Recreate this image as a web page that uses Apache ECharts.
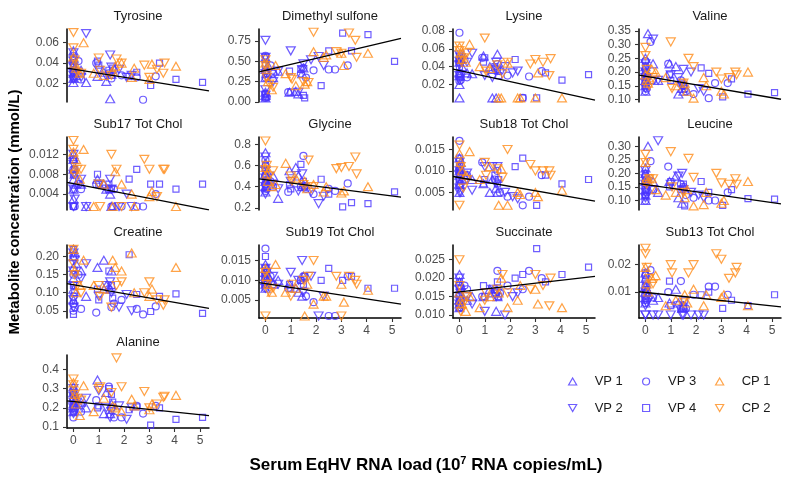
<!DOCTYPE html>
<html><head><meta charset="utf-8">
<script src="https://cdn.jsdelivr.net/npm/echarts@6/dist/echarts.min.js"></script>
<style>html,body{margin:0;padding:0;background:#fff}#c{width:789px;height:477px}</style>
</head><body><div id="c"></div><script>
const metabolites = ['Tyrosine','Dimethyl sulfone','Lysine','Valine','Sub17 Tot Chol','Glycine','Sub18 Tot Chol','Leucine','Creatine','Sub19 Tot Chol','Succinate','Sub13 Tot Chol','Alanine'];
const groups = ['VP 1','VP 2','VP 3','VP 4','CP 1','CP 2'];
const xTicks = [0,1,2,3,4,5];
// RNA load per sample, per group
const xVP1 = [0,0,0,0,0,0,0.05,0.1,0.3,0.5,0.95,1.2,1.3,1.45,1.5];
const xVP2 = [0,0,0,0,0,0.05,0.3,0.5,1.0,1.3,1.45,1.5,1.8,2.1,2.3];
const xVP3 = [0,0,0,0,0.05,0.2,0.3,0.9,1.4,1.5,1.6,1.9,2.5,2.75,3.25];
const xVP4 = [0,0,0,0,0.05,0.95,1.0,1.4,1.5,1.55,2.2,2.5,3.05,3.4,4.05,5.1];
const xCP1 = [0,0.05,0.1,0.25,0.4,0.8,1.2,1.55,1.65,1.9,2.3,2.4,3.0,3.1,4.05];
const xCP2 = [0,0,0.05,0.15,0.3,1.0,1.05,1.5,1.7,1.9,2.8,3.0,3.3,3.55,3.6];

// concentrations, groups in order VP1, VP2, VP3, VP4, CP1, CP2
const tyrosine = [
 [0.052,0.045,0.038,0.030,0.025,0.021,0.035,0.028,0.033,0.021,0.027,0.031,0.022,0.005,0.029],
 [0.050,0.042,0.036,0.028,0.024,0.031,0.026,0.069,0.033,0.027,0.048,0.036,0.034,0.026,0.028],
 [0.047,0.040,0.033,0.026,0.030,0.042,0.024,0.040,0.030,0.025,0.033,0.028,0.026,0.004,0.027],
 [0.044,0.036,0.030,0.025,0.032,0.042,0.038,0.033,0.028,0.035,0.027,0.031,0.018,0.040,0.024,0.021],
 [0.046,0.040,0.035,0.030,0.060,0.030,0.028,0.032,0.037,0.040,0.026,0.035,0.024,0.039,0.037],
 [0.070,0.055,0.043,0.031,0.030,0.045,0.033,0.028,0.044,0.040,0.038,0.026,0.034,0.030,0.040]];
const dimethylSulfone = [
 [0.55,0.40,0.30,0.12,0.08,0.05,0.35,0.45,0.30,0.38,0.12,0.13,0.10,0.35,0.42],
 [0.76,0.55,0.35,0.15,0.08,0.30,0.25,0.38,0.63,0.12,0.40,0.47,0.52,0.56,0.45],
 [0.57,0.30,0.10,0.05,0.06,0.45,0.35,0.12,0.35,0.42,0.30,0.39,0.40,0.40,0.45],
 [0.55,0.45,0.10,0.05,0.35,0.38,0.12,0.40,0.08,0.05,0.20,0.63,0.85,0.63,0.83,0.50],
 [0.48,0.42,0.25,0.15,0.45,0.35,0.20,0.22,0.25,0.62,0.55,0.58,0.60,0.45,0.60],
 [0.52,0.45,0.30,0.22,0.18,0.30,0.28,0.25,0.24,0.86,0.62,0.60,0.85,0.76,0.55]];
const lysine = [
 [0.050,0.045,0.033,0.020,0.005,0.030,0.048,0.040,0.033,0.032,0.052,0.040,0.005,0.005,0.054],
 [0.053,0.046,0.042,0.030,0.025,0.050,0.045,0.055,0.030,0.028,0.045,0.036,0.040,0.033,0.035],
 [0.078,0.045,0.030,0.024,0.025,0.048,0.028,0.050,0.038,0.043,0.035,0.030,0.005,0.029,0.035],
 [0.052,0.048,0.040,0.032,0.028,0.045,0.050,0.040,0.035,0.030,0.048,0.005,0.005,0.033,0.025,0.031],
 [0.062,0.055,0.048,0.045,0.065,0.040,0.038,0.005,0.005,0.044,0.005,0.005,0.005,0.033,0.005],
 [0.063,0.058,0.047,0.050,0.055,0.072,0.035,0.042,0.032,0.045,0.043,0.048,0.045,0.030,0.049]];
const valine = [
 [0.25,0.22,0.19,0.17,0.15,0.13,0.20,0.34,0.23,0.17,0.23,0.22,0.12,0.14,0.13],
 [0.23,0.20,0.18,0.16,0.14,0.18,0.32,0.17,0.19,0.18,0.15,0.21,0.20,0.14,0.13],
 [0.24,0.19,0.16,0.13,0.14,0.31,0.17,0.23,0.17,0.15,0.13,0.12,0.105,0.16,0.16],
 [0.22,0.20,0.17,0.15,0.18,0.19,0.17,0.16,0.15,0.14,0.215,0.195,0.11,0.175,0.12,0.125],
 [0.19,0.17,0.16,0.21,0.20,0.18,0.15,0.16,0.13,0.105,0.18,0.15,0.13,0.12,0.20],
 [0.29,0.26,0.21,0.15,0.18,0.31,0.14,0.16,0.25,0.22,0.20,0.175,0.18,0.20,0.19]];
const sub17TotChol = [
 [0.012,0.011,0.009,0.007,0.005,0.003,0.008,0.006,0.006,0.0015,0.007,0.006,0.005,0.004,0.0015],
 [0.012,0.010,0.008,0.005,0.0015,0.003,0.007,0.0015,0.006,0.005,0.007,0.005,0.0015,0.004,0.0015],
 [0.011,0.009,0.005,0.0015,0.0015,0.006,0.005,0.006,0.005,0.0015,0.005,0.0015,0.0015,0.0015,0.004],
 [0.011,0.008,0.0015,0.0015,0.009,0.008,0.006,0.006,0.005,0.0015,0.007,0.009,0.006,0.006,0.005,0.006],
 [0.0125,0.009,0.011,0.007,0.013,0.0015,0.006,0.0015,0.0085,0.006,0.004,0.0015,0.0035,0.0045,0.0015],
 [0.0148,0.013,0.008,0.009,0.009,0.006,0.0015,0.012,0.009,0.0015,0.011,0.009,0.0035,0.009,0.009]];
const glycine = [
 [0.72,0.62,0.52,0.45,0.40,0.35,0.55,0.48,0.50,0.29,0.55,0.58,0.50,0.40,0.42],
 [0.68,0.55,0.48,0.40,0.33,0.45,0.42,0.38,0.45,0.36,0.52,0.40,0.35,0.24,0.31],
 [0.65,0.50,0.42,0.36,0.38,0.45,0.40,0.35,0.40,0.69,0.38,0.33,0.38,0.36,0.43],
 [0.60,0.52,0.45,0.38,0.40,0.42,0.38,0.61,0.45,0.40,0.47,0.33,0.21,0.25,0.24,0.35],
 [0.58,0.52,0.45,0.40,0.42,0.62,0.48,0.45,0.38,0.42,0.35,0.40,0.34,0.36,0.40],
 [0.83,0.56,0.60,0.50,0.55,0.50,0.45,0.42,0.65,0.40,0.57,0.58,0.59,0.68,0.52]];
const sub18TotChol = [
 [0.013,0.011,0.010,0.009,0.007,0.005,0.012,0.008,0.009,0.008,0.007,0.005,0.008,0.006,0.005],
 [0.012,0.010,0.009,0.006,0.005,0.005,0.0095,0.0055,0.011,0.011,0.007,0.011,0.005,0.004,0.0035],
 [0.017,0.010,0.008,0.007,0.007,0.008,0.009,0.012,0.008,0.010,0.005,0.004,0.002,0.004,0.009],
 [0.013,0.011,0.009,0.008,0.010,0.007,0.008,0.009,0.007,0.008,0.011,0.013,0.002,0.009,0.007,0.008],
 [0.014,0.012,0.010,0.009,0.0145,0.008,0.011,0.002,0.0105,0.002,0.005,0.0045,0.005,0.004,0.0055],
 [0.016,0.002,0.011,0.006,0.008,0.012,0.009,0.0105,0.0085,0.015,0.0115,0.010,0.010,0.010,0.009]];
const leucine = [
 [0.22,0.20,0.17,0.14,0.12,0.10,0.18,0.30,0.17,0.13,0.17,0.19,0.11,0.09,0.15],
 [0.21,0.18,0.16,0.13,0.11,0.17,0.14,0.32,0.16,0.19,0.20,0.14,0.13,0.12,0.11],
 [0.19,0.15,0.12,0.10,0.13,0.245,0.14,0.225,0.16,0.15,0.12,0.11,0.10,0.10,0.13],
 [0.20,0.17,0.14,0.12,0.16,0.15,0.17,0.14,0.16,0.08,0.17,0.13,0.082,0.14,0.107,0.105],
 [0.24,0.18,0.17,0.18,0.14,0.12,0.13,0.11,0.14,0.08,0.085,0.13,0.09,0.10,0.17],
 [0.27,0.24,0.16,0.18,0.18,0.28,0.15,0.13,0.255,0.185,0.20,0.165,0.16,0.18,0.16]];
const creatine = [
 [0.22,0.20,0.17,0.14,0.11,0.08,0.21,0.18,0.16,0.09,0.17,0.19,0.12,0.11,0.16],
 [0.21,0.16,0.12,0.08,0.06,0.19,0.14,0.18,0.09,0.12,0.13,0.10,0.06,0.095,0.05],
 [0.20,0.15,0.09,0.05,0.06,0.15,0.055,0.045,0.11,0.06,0.07,0.08,0.055,0.04,0.062],
 [0.22,0.12,0.07,0.04,0.10,0.11,0.08,0.16,0.12,0.085,0.205,0.095,0.048,0.09,0.097,0.043],
 [0.22,0.16,0.10,0.12,0.19,0.12,0.11,0.19,0.17,0.16,0.21,0.10,0.09,0.11,0.17],
 [0.22,0.18,0.15,0.12,0.10,0.12,0.09,0.06,0.12,0.13,0.10,0.13,0.08,0.065,0.08]];
const sub19TotChol = [
 [0.014,0.012,0.011,0.010,0.009,0.008,0.013,0.011,0.009,0.010,0.009,0.008,0.007,0.006,0.011],
 [0.013,0.011,0.010,0.009,0.008,0.012,0.011,0.009,0.012,0.010,0.015,0.007,0.011,0.001,0.006],
 [0.018,0.012,0.010,0.008,0.009,0.011,0.009,0.008,0.010,0.011,0.006,0.0045,0.001,0.001,0.011],
 [0.016,0.013,0.011,0.009,0.012,0.009,0.008,0.010,0.009,0.011,0.010,0.013,0.010,0.011,0.008,0.008],
 [0.013,0.011,0.009,0.007,0.014,0.007,0.008,0.001,0.009,0.004,0.006,0.006,0.009,0.0045,0.0075],
 [0.012,0.001,0.009,0.007,0.008,0.006,0.009,0.010,0.011,0.015,0.011,0.001,0.011,0.010,0.009]];
const succinate = [
 [0.021,0.019,0.016,0.014,0.013,0.012,0.018,0.015,0.014,0.015,0.015,0.017,0.016,0.011,0.015],
 [0.020,0.017,0.014,0.013,0.012,0.016,0.015,0.013,0.011,0.017,0.015,0.016,0.010,0.015,0.016],
 [0.018,0.016,0.013,0.012,0.014,0.018,0.017,0.015,0.017,0.022,0.016,0.018,0.017,0.022,0.020],
 [0.019,0.015,0.013,0.012,0.014,0.018,0.015,0.016,0.019,0.015,0.020,0.021,0.028,0.019,0.021,0.023],
 [0.016,0.014,0.013,0.011,0.015,0.012,0.015,0.016,0.020,0.012,0.014,0.018,0.017,0.013,0.012],
 [0.025,0.018,0.011,0.013,0.015,0.014,0.016,0.017,0.021,0.016,0.017,0.021,0.018,0.0125,0.020]];
const sub13TotChol = [
 [0.017,0.015,0.012,0.010,0.008,0.006,0.011,0.009,0.007,0.008,0.006,0.011,0.006,0.004,0.005],
 [0.010,0.007,0.005,0.0016,0.0016,0.006,0.0016,0.0016,0.0016,0.005,0.0016,0.0016,0.0016,0.0016,0.0016],
 [0.016,0.012,0.009,0.006,0.010,0.018,0.008,0.010,0.014,0.005,0.004,0.009,0.012,0.012,0.009],
 [0.017,0.014,0.011,0.007,0.013,0.014,0.005,0.004,0.004,0.007,0.009,0.010,0.004,0.007,0.005,0.009],
 [0.019,0.013,0.010,0.015,0.016,0.005,0.007,0.009,0.006,0.011,0.005,0.009,0.008,0.009,0.005],
 [0.026,0.024,0.019,0.015,0.013,0.020,0.017,0.007,0.017,0.020,0.024,0.022,0.015,0.017,0.019]];
const alanine = [
 [0.31,0.28,0.25,0.22,0.20,0.18,0.27,0.24,0.23,0.20,0.345,0.17,0.28,0.17,0.22],
 [0.30,0.26,0.23,0.20,0.17,0.25,0.21,0.25,0.29,0.20,0.15,0.18,0.21,0.14,0.20],
 [0.29,0.24,0.20,0.15,0.19,0.22,0.18,0.24,0.31,0.20,0.15,0.15,0.21,0.17,0.21],
 [0.28,0.25,0.21,0.18,0.22,0.20,0.21,0.30,0.27,0.23,0.19,0.205,0.11,0.20,0.14,0.15],
 [0.33,0.27,0.22,0.16,0.315,0.18,0.25,0.21,0.20,0.18,0.245,0.21,0.19,0.22,0.265],
 [0.35,0.32,0.27,0.25,0.24,0.30,0.31,0.28,0.46,0.31,0.285,0.20,0.22,0.255,0.26]];

// y tick labels per panel
const yTickLabels = [
 ['0.02','0.04','0.06'], ['0.00','0.25','0.50','0.75'], ['0.02','0.04','0.06','0.08'],
 ['0.10','0.15','0.20','0.25','0.30','0.35'], ['0.004','0.008','0.012'], ['0.2','0.4','0.6','0.8'],
 ['0.005','0.010','0.015'], ['0.10','0.15','0.20','0.25','0.30'], ['0.05','0.10','0.15','0.20'],
 ['0.005','0.010','0.015'], ['0.010','0.015','0.020','0.025'], ['0.01','0.02'], ['0.1','0.2','0.3','0.4']];
// y axis ranges (data range + 5%)
const yMin = [0.0018,-0.001,0.0004,0.091,0.0008,0.18,0.0009,0.065,0.030,0.0005,0.0092,0.0005,0.095];
const yMax = [0.0735,0.900,0.0822,0.357,0.0155,0.868,0.0179,0.334,0.232,0.0189,0.0290,0.0272,0.475];
const xMin = -0.255, xMax = 5.355;
// linear fit per panel
const fitIntercept = [0.034,0.389,0.0357,0.185,0.00613,0.465,0.00844,0.1586,0.1219,0.00915,0.0163,0.00985,0.2325];
const fitSlope = [-0.00398,0.0736,-0.00622,-0.01569,-0.00099,-0.0305,-0.001025,-0.0132,-0.0122,-0.000963,0.000784,-0.000982,-0.01355];

const panelData = [tyrosine,dimethylSulfone,lysine,valine,sub17TotChol,glycine,sub18TotChol,leucine,creatine,sub19TotChol,succinate,sub13TotChol,alanine];
const groupX = [xVP1,xVP2,xVP3,xVP4,xCP1,xCP2];

const BLUE = '#4a35ff', ORANGE = '#ff8c1a';
const FONT = "'Liberation Sans', Arial, sans-serif";
const TRI_UP = 'path://M5,0L10,8.66L0,8.66Z';
const TRI_DOWN = 'path://M0,0L10,0L5,8.66Z';
const SQUARE = 'path://M0,0L10,0L10,10L0,10Z';
const CIRCLE = 'circle';
const groupStyle = [
 {symbol:TRI_UP, size:[9,8], color:BLUE},
 {symbol:TRI_DOWN, size:[9,8], color:BLUE},
 {symbol:CIRCLE, size:7, color:BLUE},
 {symbol:SQUARE, size:6, color:BLUE},
 {symbol:TRI_UP, size:[9,8], color:ORANGE},
 {symbol:TRI_DOWN, size:[9,8], color:ORANGE}];

const colLeft = [67,259,453,639];
const rowTop = [29,137,245,355];
const PW = 142, PH = 73;
const bottomPanels = [9,10,11,12];

const grids = [], xAxes = [], yAxes = [], series = [], graphics = [];
metabolites.forEach((name, i) => {
  const col = i % 4, row = Math.floor(i / 4);
  grids.push({left: colLeft[col], top: rowTop[row], width: PW, height: PH});
  const isBottom = bottomPanels.includes(i);
  xAxes.push({
    gridIndex: i, type: 'value', min: xMin, max: xMax, show: isBottom,
    axisLine: {show: true, onZero: false, lineStyle: {color: '#000', width: 1.5}},
    axisTick: {show: true, length: 4, customValues: xTicks, lineStyle: {color: '#333', width: 1.1}},
    axisLabel: {show: true, customValues: xTicks, fontSize: 12, color: '#4d4d4d', fontFamily: FONT, margin: 7},
    splitLine: {show: false}
  });
  const ticks = yTickLabels[i].map(parseFloat);
  yAxes.push({
    gridIndex: i, type: 'value', min: yMin[i], max: yMax[i],
    axisLine: {show: true, onZero: false, lineStyle: {color: '#000', width: 1.5}},
    axisTick: {show: true, length: 4, customValues: ticks, lineStyle: {color: '#333', width: 1.1}},
    axisLabel: {show: true, customValues: ticks, fontSize: 12, color: '#4d4d4d', fontFamily: FONT, margin: 8,
      formatter: v => { const k = ticks.findIndex(t => Math.abs(t - v) < 1e-9); return k >= 0 ? yTickLabels[i][k] : ''; }},
    splitLine: {show: false}
  });
  panelData[i].forEach((ys, g) => {
    const st = groupStyle[g];
    series.push({
      type: 'scatter', name: groups[g], xAxisIndex: i, yAxisIndex: i,
      data: groupX[g].map((xv, k) => [xv, ys[k]]),
      symbol: st.symbol, symbolSize: st.size,
      itemStyle: {color: 'rgba(0,0,0,0)', borderColor: st.color, borderWidth: 1.2},
      silent: true, animation: false
    });
  });
  series.push({
    type: 'line', xAxisIndex: i, yAxisIndex: i, symbol: 'none', silent: true, animation: false, z: 5,
    data: [[xMin, fitIntercept[i] + fitSlope[i] * xMin], [xMax, fitIntercept[i] + fitSlope[i] * xMax]],
    lineStyle: {color: '#000', width: 1.3}
  });
  graphics.push({type: 'text', x: colLeft[col] + PW / 2, y: rowTop[row] - 13,
    style: {text: name, align: 'center', verticalAlign: 'middle', font: '13px ' + FONT, fill: '#1a1a1a'}});
});

graphics.push({type: 'text', x: 15, y: 212, rotation: Math.PI / 2,
  style: {text: 'Metabolite concentration (mmol/L)', align: 'center', verticalAlign: 'middle', font: 'bold 15px ' + FONT, fill: '#000'}});
graphics.push({type: 'text', x: 426, y: 465,
  style: {text: '{b|Serum\u2009EqHV RNA load\u2009(10}{s|7}{b| RNA copies/mL)}', align: 'center', verticalAlign: 'middle',
    rich: {b: {fontFamily: FONT, fontWeight: 'bold', fontSize: 17, fill: '#000', lineHeight: 20},
           s: {fontFamily: FONT, fontWeight: 'bold', fontSize: 11, fill: '#000', verticalAlign: 'top', lineHeight: 20}}}});

const legendLeft = [563, 637, 710];
const legends = [0, 1, 2].map(c => ({
  orient: 'vertical', left: legendLeft[c], top: 370, itemWidth: 34, itemHeight: 7, itemGap: 13.5,
  selectedMode: false, symbolKeepAspect: true,
  textStyle: {fontSize: 13, color: '#1a1a1a', fontFamily: FONT},
  data: [2 * c, 2 * c + 1].map(g => ({name: groups[g], icon: groupStyle[g].symbol,
    itemStyle: {color: 'rgba(0,0,0,0)', borderColor: groupStyle[g].color, borderWidth: 1.2}}))
}));

const chart = echarts.init(document.getElementById('c'), null, {renderer: 'canvas'});
chart.setOption({
  animation: false, backgroundColor: '#fff',
  grid: grids, xAxis: xAxes, yAxis: yAxes, series: series, legend: legends, graphic: graphics
});
</script></body></html>
